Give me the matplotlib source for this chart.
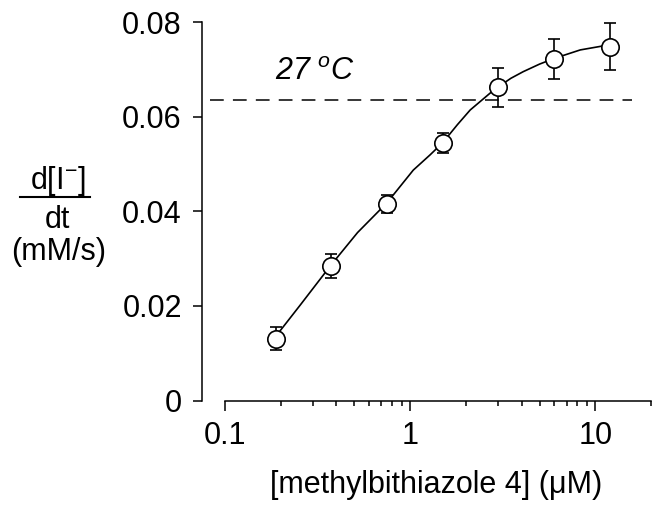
import numpy as np
import matplotlib
matplotlib.use("Agg")
import matplotlib.pyplot as plt
from matplotlib.lines import Line2D

plt.rcParams['font.family'] = ['Liberation Sans', 'DejaVu Sans']
plt.rcParams['mathtext.fontset'] = 'custom'
plt.rcParams['mathtext.rm'] = 'Liberation Sans'
plt.rcParams['mathtext.it'] = 'Liberation Sans:italic'

# measured points
conc = [0.1875, 0.375, 0.75, 1.5, 3.0, 6.0, 12.0]
rate = [0.0131, 0.0284, 0.0415, 0.0545, 0.0662, 0.0722, 0.0748]
err = [0.0024, 0.0026, 0.0019, 0.0021, 0.0041, 0.0043, 0.0050]

# fitted curve
fit_x = [0.1875, 0.254, 0.375, 0.52, 0.75, 1.04, 1.28, 1.5, 1.8, 2.11, 2.71, 3.0,
         3.5, 4.08, 5.0, 6.0, 8.3, 12.0]
fit_y = [0.0135, 0.0201, 0.0287, 0.0355, 0.0418, 0.0487, 0.0519, 0.0545, 0.0583,
         0.0614, 0.0650, 0.0663, 0.0681, 0.0695, 0.0711, 0.0723, 0.0741, 0.0752]

ref_level = 0.0636
ref_x = [0.083, 15.8]

yticks = [0, 0.02, 0.04, 0.06, 0.08]
ytlabels = ['0', '0.02', '0.04', '0.06', '0.08']
xticks = [0.1, 1, 10]
xtlabels = ['0.1', '1', '10']
xminor = [0.2, 0.3, 0.4, 0.5, 0.6, 0.7, 0.8, 0.9, 2, 3, 4, 5, 6, 7, 8, 9, 20]

W, H = 663, 507
fig = plt.figure(figsize=(W / 100, H / 100), dpi=100)
ax = fig.add_axes([202 / W, 1 - 400.5 / H, (651 - 202) / W, (400.5 - 22) / H])

ax.set_xscale('log')
ax.set_xlim(10 ** (-1 - 23 / 185), 20)
ax.set_ylim(0, 0.08)

ax.plot(fit_x, fit_y, color='k', lw=1.2, zorder=2)
ax.plot(ref_x, [ref_level, ref_level], color='k', lw=1.1, dashes=(9, 6), zorder=1)
ax.errorbar(conc, rate, yerr=err, fmt='none', ecolor='k', elinewidth=1.2,
            capsize=4.5, capthick=1.2, zorder=3, clip_on=False)
ax.plot(conc, rate, 'o', ms=12.5, mfc='white', mec='k', mew=1.2, zorder=4, clip_on=False)

ax.text(0.186, 0.0695, '27 $^{\\mathit{o}}$C', fontsize=22, style='italic',
        ha='left', va='center')

for s in ['top', 'right']:
    ax.spines[s].set_visible(False)
ax.spines['left'].set_bounds(0, 0.08)
ax.spines['bottom'].set_bounds(0.1, 20)
ax.spines['left'].set_linewidth(1.1)
ax.spines['bottom'].set_linewidth(1.1)

ax.set_yticks(yticks)
ax.set_yticklabels(ytlabels)
ax.set_xticks(xticks)
ax.set_xticklabels(xtlabels)
ax.set_xticks(xminor, minor=True)
ax.set_xticklabels([], minor=True)
ax.tick_params(axis='y', which='major', length=6.5, width=1.1, pad=8, labelsize=22)
ax.tick_params(axis='y', which='minor', left=False)
ax.tick_params(axis='x', which='major', length=7, width=1.1, pad=8, labelsize=22)
ax.tick_params(axis='x', which='minor', length=3.5, width=1.1)

# axis titles
fig.text(436 / W, 1 - 485 / H, '[methylbithiazole 4] (μM)', fontsize=22,
         ha='center', va='center')
fig.text(58 / W, 1 - 181 / H, 'd[I$^{-}$]', fontsize=22, ha='center', va='center')
fig.add_artist(Line2D([20 / W, 90 / W], [1 - 197 / H, 1 - 197 / H],
                      transform=fig.transFigure, color='k', lw=1.5))
fig.text(57 / W, 1 - 220 / H, 'dt', fontsize=22, ha='center', va='center')
fig.text(59 / W, 1 - 252 / H, '(mM/s)', fontsize=22, ha='center', va='center')

fig.savefig('out.png', dpi=100)
